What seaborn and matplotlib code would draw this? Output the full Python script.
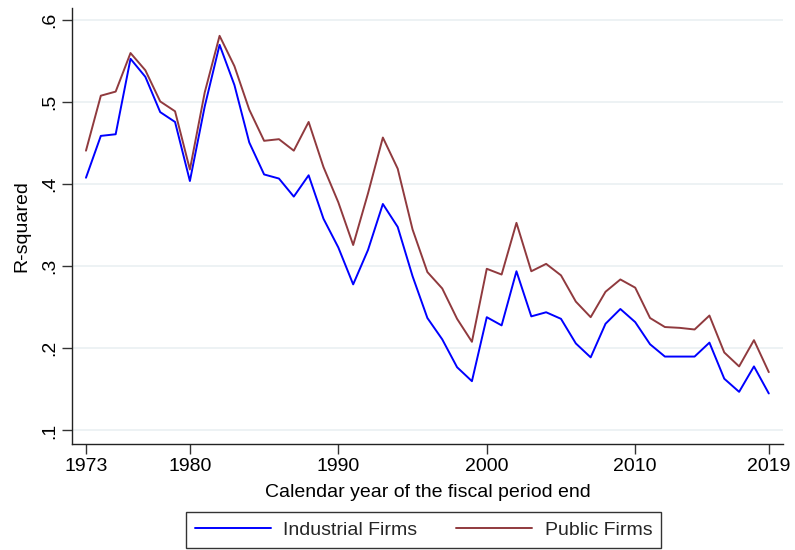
import matplotlib
matplotlib.use("Agg")
import matplotlib.pyplot as plt
import seaborn as sns
import pandas as pd

years = list(range(1973, 2020))

industrial = [
    0.408, 0.459, 0.461, 0.553, 0.531, 0.488, 0.476, 0.404, 0.495, 0.570,
    0.521, 0.451, 0.412, 0.407, 0.385, 0.411, 0.358, 0.323, 0.278, 0.320,
    0.376, 0.348, 0.288, 0.237, 0.211, 0.177, 0.160, 0.238, 0.228, 0.294,
    0.239, 0.244, 0.236, 0.206, 0.189, 0.230, 0.248, 0.232, 0.205, 0.190,
    0.190, 0.190, 0.207, 0.163, 0.147, 0.178, 0.145,
]

public = [
    0.441, 0.508, 0.513, 0.560, 0.539, 0.501, 0.489, 0.418, 0.512, 0.581,
    0.544, 0.491, 0.453, 0.455, 0.441, 0.476, 0.421, 0.378, 0.326, 0.389,
    0.457, 0.419, 0.345, 0.293, 0.273, 0.236, 0.208, 0.297, 0.290, 0.353,
    0.294, 0.303, 0.289, 0.257, 0.238, 0.269, 0.284, 0.274, 0.237, 0.226,
    0.225, 0.223, 0.240, 0.195, 0.178, 0.210, 0.171,
]

x_ticks = [1973, 1980, 1990, 2000, 2010, 2019]
y_ticks = [0.1, 0.2, 0.3, 0.4, 0.5, 0.6]
y_tick_labels = [".1", ".2", ".3", ".4", ".5", ".6"]

series_names = ["Industrial Firms", "Public Firms"]
colors = {"Industrial Firms": "#0000ff", "Public Firms": "#903a3e"}

df = pd.DataFrame({
    "year": years * 2,
    "r2": industrial + public,
    "series": [series_names[0]] * len(years) + [series_names[1]] * len(years),
})

sns.set_theme(style="white")
plt.rcParams["font.family"] = ["Liberation Sans", "DejaVu Sans"]

FS = 14

fig = plt.figure(figsize=(7.95, 5.5), dpi=100)
ax = fig.add_axes([0.0906, 0.193, 0.894, 0.792])

sns.lineplot(data=df, x="year", y="r2", hue="series", palette=colors,
             linewidth=1.4, ax=ax, legend=False)

ax.set_xlim(1972.06, 2019.94)
ax.set_ylim(0.0836, 0.6146)

ax.set_xticks(x_ticks)
ax.set_xticklabels([str(t) for t in x_ticks], fontsize=FS)
ax.set_yticks(y_ticks)
ax.set_yticklabels(y_tick_labels, fontsize=FS, rotation=90, va="center")

for y in y_ticks:
    ax.axhline(y, color="#eaf0f2", linewidth=1.2, zorder=0)

for side in ["top", "right"]:
    ax.spines[side].set_visible(False)
for side in ["left", "bottom"]:
    ax.spines[side].set_color("#222222")
    ax.spines[side].set_linewidth(1.0)

ax.tick_params(axis="both", which="major", direction="out", length=7,
               width=1.0, color="#333333", left=True, bottom=True,
               labelcolor="black", pad=3)

ax.set_xlabel("Calendar year of the fiscal period end", fontsize=FS,
              color="black", labelpad=7)
ax.set_ylabel("R-squared", fontsize=FS, color="black", labelpad=8)

handles = [plt.Line2D([0], [0], color=colors[n], linewidth=1.4) for n in series_names]
leg = fig.legend(handles, series_names, loc="center", bbox_to_anchor=(0.533, 0.0364),
                 ncol=2, fontsize=FS, frameon=True, fancybox=False,
                 handlelength=3.9, columnspacing=2.0, handletextpad=0.65,
                 borderpad=0.45, borderaxespad=0.0)
leg.get_frame().set_edgecolor("black")
leg.get_frame().set_linewidth(1.0)

fig.savefig("out.png", dpi=100, facecolor="white")
